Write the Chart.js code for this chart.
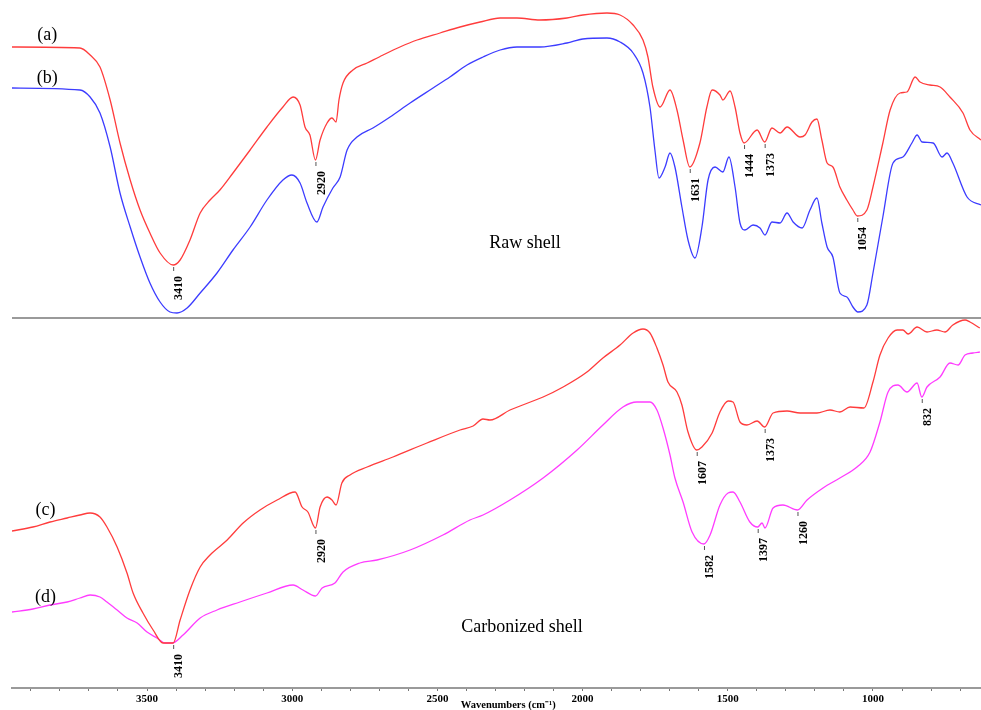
<!DOCTYPE html>
<html lang="en">
<head>
<meta charset="UTF-8">
<title>FTIR spectra - raw and carbonized shell</title>
<style>
  body { margin: 0; background: #fff; }
  #wrap { width: 981px; height: 710px; position: relative; }
</style>
</head>
<body>
<div id="wrap"><canvas id="ftir"></canvas></div>
<script src="https://cdn.jsdelivr.net/npm/chart.js"></script>
<script>
// wavenumber (cm-1) and stacked transmittance (arbitrary units)
const aWn = [3965, 3731, 3696, 3662, 3627, 3593, 3558, 3524, 3490, 3455, 3410, 3386, 3352, 3317, 3283, 3249, 3204, 3145, 3087, 3032, 2997, 2973, 2956, 2939, 2920, 2904, 2880, 2863, 2849, 2839, 2825, 2791, 2742, 2687, 2629, 2570, 2491, 2422, 2353, 2284, 2226, 2147, 2054, 1999, 1916, 1871, 1826, 1792, 1775, 1758, 1733, 1699, 1675, 1654, 1631, 1596, 1572, 1554, 1527, 1517, 1492, 1475, 1458, 1444, 1399, 1373, 1348, 1320, 1296, 1251, 1234, 1210, 1193, 1176, 1158, 1138, 1114, 1090, 1069, 1054, 1021, 1000, 966, 941, 907, 883, 855, 838, 804, 769, 735, 690, 666, 628];
const aT = [64.1, 64.0, 63.3, 62.1, 58.8, 54.5, 50.8, 47.8, 45.5, 43.5, 42.3, 42.8, 44.8, 47.5, 48.8, 49.8, 51.5, 53.8, 56.1, 58.1, 59.1, 58.3, 56.1, 55.3, 52.8, 54.8, 56.5, 57.0, 56.6, 58.8, 60.5, 61.8, 62.5, 63.3, 64.1, 64.8, 65.5, 66.1, 66.6, 67.0, 67.0, 66.8, 67.0, 67.3, 67.5, 67.3, 66.3, 64.8, 63.1, 60.1, 58.1, 59.8, 57.8, 54.8, 52.1, 54.5, 58.1, 59.8, 59.3, 58.8, 59.7, 58.1, 55.5, 54.5, 55.8, 54.6, 56.0, 55.5, 56.1, 55.1, 55.3, 56.6, 56.9, 54.8, 52.5, 52.1, 50.1, 48.8, 47.8, 47.2, 47.8, 50.1, 54.5, 57.8, 59.5, 59.6, 61.1, 60.6, 60.3, 60.1, 59.1, 57.5, 55.8, 54.8];

const bWn = [3965, 3731, 3696, 3662, 3627, 3593, 3558, 3524, 3490, 3455, 3421, 3397, 3362, 3317, 3259, 3204, 3145, 3087, 3032, 3001, 2973, 2949, 2915, 2894, 2860, 2835, 2811, 2777, 2722, 2663, 2594, 2515, 2457, 2398, 2343, 2284, 2226, 2147, 2054, 1999, 1916, 1871, 1826, 1792, 1768, 1751, 1737, 1716, 1699, 1682, 1658, 1637, 1613, 1589, 1568, 1544, 1517, 1496, 1475, 1458, 1441, 1413, 1389, 1372, 1348, 1320, 1296, 1275, 1244, 1217, 1193, 1176, 1158, 1138, 1114, 1090, 1069, 1052, 1021, 1000, 966, 931, 897, 866, 848, 831, 793, 762, 745, 725, 676, 628];
const bT = [60.0, 59.8, 59.1, 57.5, 54.1, 49.5, 46.1, 43.1, 40.5, 38.6, 37.6, 37.5, 38.0, 39.5, 41.5, 43.8, 46.1, 48.8, 50.8, 51.3, 50.5, 48.5, 46.6, 48.1, 50.0, 51.1, 53.8, 55.1, 56.0, 57.1, 58.5, 60.0, 61.1, 62.3, 63.1, 63.8, 64.1, 64.1, 64.5, 64.9, 65.0, 64.6, 63.5, 61.5, 58.1, 53.8, 51.0, 52.1, 53.5, 52.1, 48.1, 44.8, 43.0, 46.1, 50.8, 52.1, 51.6, 53.1, 50.1, 46.5, 45.8, 46.3, 46.0, 45.3, 46.6, 46.5, 47.5, 46.6, 46.0, 47.8, 49.0, 46.5, 44.1, 43.1, 39.5, 39.1, 38.1, 37.6, 38.3, 41.5, 47.1, 52.5, 53.1, 54.5, 55.3, 54.6, 54.5, 53.1, 53.5, 52.5, 49.1, 48.3];

const cWn = [3965, 3893, 3834, 3775, 3731, 3696, 3662, 3638, 3603, 3569, 3548, 3514, 3479, 3445, 3410, 3386, 3352, 3317, 3283, 3224, 3169, 3111, 3052, 2990, 2966, 2946, 2920, 2904, 2880, 2863, 2849, 2829, 2801, 2742, 2653, 2536, 2422, 2377, 2343, 2319, 2250, 2136, 2067, 1985, 1930, 1871, 1826, 1792, 1768, 1744, 1723, 1706, 1675, 1658, 1637, 1607, 1589, 1554, 1527, 1499, 1482, 1458, 1434, 1399, 1373, 1344, 1296, 1251, 1193, 1148, 1114, 1079, 1031, 1000, 976, 948, 917, 897, 879, 848, 814, 780, 752, 725, 683, 666, 632];
const cT = [15.7, 16.1, 16.6, 17.0, 17.3, 17.5, 17.1, 16.1, 14.1, 11.5, 9.5, 7.5, 5.8, 4.5, 4.5, 6.8, 9.8, 12.1, 13.3, 14.8, 16.5, 17.8, 18.8, 19.6, 18.1, 17.6, 16.0, 18.1, 19.1, 18.8, 18.3, 20.5, 21.3, 22.1, 23.1, 24.5, 25.8, 26.2, 26.9, 26.8, 27.8, 29.1, 30.1, 31.6, 33.0, 34.3, 35.5, 35.9, 35.5, 34.0, 32.3, 30.6, 29.6, 28.3, 25.6, 23.8, 24.1, 25.5, 27.6, 28.7, 28.6, 26.6, 26.3, 26.7, 26.1, 27.5, 27.7, 27.5, 27.5, 27.8, 27.6, 28.1, 28.0, 30.6, 33.3, 35.0, 35.8, 35.8, 35.4, 36.1, 35.6, 35.8, 35.6, 36.3, 36.8, 36.6, 36.0];

const dWn = [3965, 3893, 3834, 3775, 3731, 3696, 3662, 3638, 3603, 3569, 3534, 3500, 3466, 3438, 3414, 3376, 3317, 3259, 3180, 3087, 2997, 2963, 2920, 2897, 2853, 2825, 2767, 2708, 2594, 2481, 2388, 2343, 2250, 2136, 2019, 1930, 1861, 1813, 1768, 1744, 1723, 1699, 1682, 1654, 1623, 1582, 1561, 1527, 1499, 1482, 1458, 1424, 1397, 1382, 1372, 1344, 1310, 1260, 1227, 1172, 1114, 1055, 1010, 976, 948, 914, 883, 848, 832, 814, 769, 735, 707, 683, 656, 632];
const dT = [7.6, 7.9, 8.3, 8.6, 9.0, 9.3, 9.1, 8.6, 7.8, 7.0, 6.5, 5.6, 5.0, 4.5, 4.5, 5.3, 7.0, 7.8, 8.6, 9.5, 10.3, 9.8, 9.2, 10.0, 10.5, 11.6, 12.5, 12.8, 13.8, 15.3, 16.8, 17.3, 18.8, 21.0, 23.8, 26.3, 28.1, 28.6, 28.6, 27.8, 26.0, 23.3, 21.0, 18.6, 15.6, 14.4, 15.3, 18.3, 19.5, 19.6, 18.6, 16.6, 16.1, 16.5, 16.0, 18.0, 18.3, 17.8, 18.8, 20.0, 21.0, 22.1, 23.6, 26.6, 29.6, 30.3, 29.6, 30.5, 29.1, 30.1, 31.1, 32.5, 32.3, 33.3, 33.5, 33.6];

// labelled band positions per spectrum
const aPeaks = [3410, 2920, 1631, 1444, 1373, 1054];
const bPeaks = [];
const cPeaks = [3410, 2920, 1607, 1373];
const dPeaks = [1582, 1397, 1260, 832];

const seriesNames = ['(a)', '(b)', '(c)', '(d)'];
const panelNames = ['Raw shell', 'Carbonized shell'];
const axisTitle = 'Wavenumbers (cm⁻¹)';

const tickValues = [700, 800, 900, 1000, 1100, 1200, 1300, 1400, 1500, 1600, 1700, 1800, 1900, 2000, 2100, 2200, 2300, 2400, 2500, 2600, 2700, 2800, 2900, 3000, 3100, 3200, 3300, 3400, 3500, 3600, 3700, 3800, 3900];
const majorTicks = [1000, 1500, 2000, 2500, 3000, 3500];

const dividerLevel = 37;

function pairs(wn, t) {
    return wn.map((w, i) => ({ x: w, y: t[i] }));
}

const spectra = [
    { wn: aWn, t: aT, peaks: aPeaks, color: '#ff3c3c' },
    { wn: bWn, t: bT, peaks: bPeaks, color: '#3c3cff' },
    { wn: cWn, t: cT, peaks: cPeaks, color: '#ff3c3c' },
    { wn: dWn, t: dT, peaks: dPeaks, color: '#ff3cff' }
];

// where the (a)-(d) tags, panel captions and axis title sit, in data units
const tagSpots = [[3844, 65.3], [3844, 61.0], [3850, 17.8], [3850, 9.1]];
const captionSpots = [[2198, 44.5], [2209, 6.1]];
const titleSpot = 2256;

const overlay = {
    id: 'overlay',
    beforeDatasetsDraw(chart) {
        const { ctx, chartArea, scales } = chart;
        const y = scales.y.getPixelForValue(dividerLevel);
        ctx.save();
        ctx.strokeStyle = '#9a9a9a';
        ctx.lineWidth = 2;
        ctx.beginPath();
        ctx.moveTo(chartArea.left, y);
        ctx.lineTo(chartArea.right, y);
        ctx.stroke();
        ctx.restore();
    },
    afterDatasetsDraw(chart) {
        const { ctx, scales, chartArea } = chart;
        const xs = scales.x, ys = scales.y;
        ctx.save();

        // peak ticks and rotated wavenumber labels
        ctx.font = "bold 12px 'Liberation Serif', serif";
        ctx.fillStyle = '#000';
        spectra.forEach(s => {
            s.peaks.forEach(p => {
                const i = s.wn.indexOf(p);
                if (i < 0) return;
                const px = xs.getPixelForValue(p);
                const py = ys.getPixelForValue(s.t[i]);
                ctx.strokeStyle = '#555';
                ctx.lineWidth = 1;
                ctx.beginPath();
                ctx.moveTo(px + 0.5, py + 2);
                ctx.lineTo(px + 0.5, py + 6);
                ctx.stroke();
                ctx.save();
                ctx.translate(px + 6, py + 11);
                ctx.rotate(-Math.PI / 2);
                ctx.textAlign = 'right';
                ctx.textBaseline = 'middle';
                ctx.fillText(String(p), 0, 0);
                ctx.restore();
            });
        });

        ctx.font = "18px 'Liberation Serif', serif";
        ctx.textAlign = 'center';
        ctx.textBaseline = 'middle';
        seriesNames.forEach((n, i) => {
            ctx.fillText(n, xs.getPixelForValue(tagSpots[i][0]), ys.getPixelForValue(tagSpots[i][1]));
        });
        panelNames.forEach((n, i) => {
            ctx.fillText(n, xs.getPixelForValue(captionSpots[i][0]), ys.getPixelForValue(captionSpots[i][1]));
        });

        // axis title sits a little right of centre, below the tick labels
        ctx.font = "bold 10.5px 'Liberation Serif', serif";
        ctx.fillText(axisTitle, xs.getPixelForValue(titleSpot), chartArea.bottom + 17);
        ctx.restore();
    }
};

new Chart(document.getElementById('ftir'), {
    type: 'line',
    data: {
        datasets: spectra.map(s => ({
            data: pairs(s.wn, s.t),
            borderColor: s.color,
            borderWidth: 1.3,
            pointRadius: 0,
            fill: false,
            cubicInterpolationMode: 'monotone'
        }))
    },
    options: {
        responsive: true,
        maintainAspectRatio: false,
        animation: false,
        layout: { padding: { top: 8, left: 12, right: 0, bottom: 0 } },
        plugins: {
            legend: { display: false },
            tooltip: { enabled: false }
        },
        scales: {
            x: {
                type: 'linear',
                reverse: true,
                min: 628,
                max: 3965,
                afterBuildTicks: scale => {
                    scale.ticks = tickValues.map(v => ({ value: v }));
                },
                afterFit: scale => {
                    scale.height = 22;
                },
                ticks: {
                    autoSkip: false,
                    maxRotation: 0,
                    padding: 2,
                    color: '#000',
                    font: { family: "'Liberation Serif', serif", size: 11, weight: 'bold' },
                    callback: v => majorTicks.includes(v) ? String(v) : ''
                },
                grid: { drawOnChartArea: false, tickLength: 3, color: '#777' },
                border: { color: '#9a9a9a', width: 2 }
            },
            y: { display: false, min: 0, max: 68 }
        }
    },
    plugins: [overlay]
});
</script>
</body>
</html>
